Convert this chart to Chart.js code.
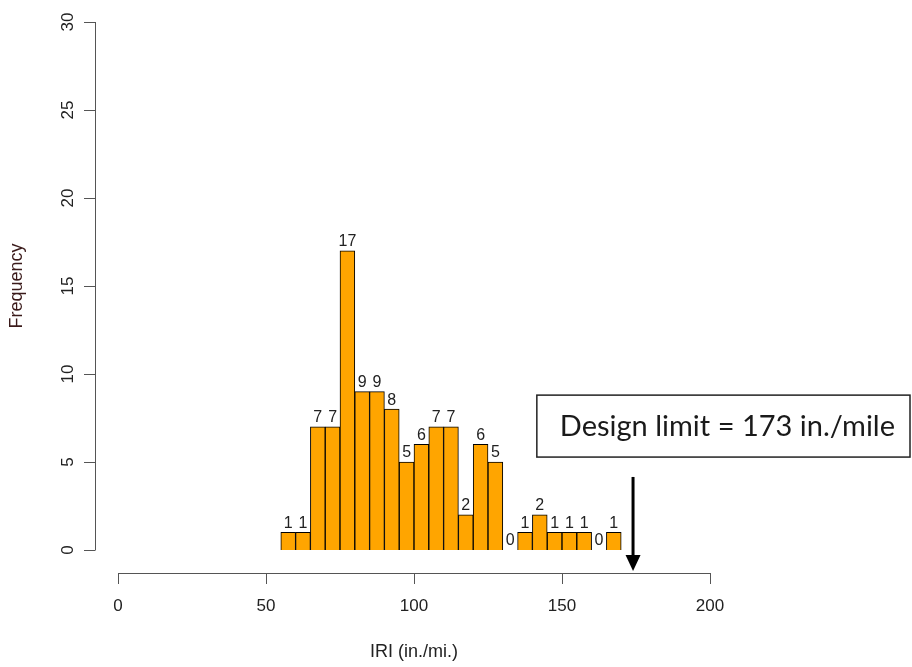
<!DOCTYPE html>
<html>
<head>
<meta charset="utf-8">
<script src="https://cdn.jsdelivr.net/npm/chart.js@4.4.1/dist/chart.umd.min.js"></script>
<style>
  html, body { margin: 0; padding: 0; background: #fff; }
  #wrap { width: 912px; height: 667px; }
</style>
</head>
<body>
<div id="wrap"><canvas id="chart"></canvas></div>
<script>
// histogram bins (lower edges, width 5) and counts
const binStarts = [55, 60, 65, 70, 75, 80, 85, 90, 95, 100, 105, 110, 115, 120, 125, 130, 135, 140, 145, 150, 155, 160, 165];
const counts    = [1, 1, 7, 7, 17, 9, 9, 8, 5, 6, 7, 7, 2, 6, 5, 0, 1, 2, 1, 1, 1, 0, 1];
const binWidth = 5;

const xTicks = [0, 50, 100, 150, 200];
const yTicks = [0, 5, 10, 15, 20, 25, 30];

const designLimit = 174;   // where the arrow sits
const noteText = 'Design limit = 173 in./mile';

const points = binStarts.map((s, i) => ({ x: s + binWidth / 2, y: counts[i] }));

const axisFont = '17px "Liberation Sans", Arial, sans-serif';
const titleFont = '18px "Liberation Sans", Arial, sans-serif';
const ink = '#222';

// R style detached axes, bar counts, arrow + note box
const rStyle = {
  id: 'rStyle',
  afterDatasetsDraw(chart) {
    const ctx = chart.ctx;
    const xs = chart.scales.x, ys = chart.scales.y;
    const area = chart.chartArea;
    ctx.save();

    // counts above bars
    const meta = chart.getDatasetMeta(0);
    ctx.font = '16px "Liberation Sans", Arial, sans-serif';
    ctx.fillStyle = ink;
    ctx.textAlign = 'center';
    ctx.textBaseline = 'bottom';
    meta.data.forEach((bar, i) => {
      ctx.fillText(String(counts[i]), bar.x, bar.y - 1);
    });

    // y axis
    const yAxisX = area.left - 23;
    ctx.strokeStyle = '#555';
    ctx.lineWidth = 1;
    ctx.beginPath();
    ctx.moveTo(yAxisX + 0.5, ys.getPixelForValue(0));
    ctx.lineTo(yAxisX + 0.5, ys.getPixelForValue(30));
    yTicks.forEach(t => {
      const py = Math.round(ys.getPixelForValue(t)) + 0.5;
      ctx.moveTo(yAxisX + 0.5, py);
      ctx.lineTo(yAxisX - 11, py);
    });
    ctx.stroke();
    ctx.font = axisFont;
    ctx.fillStyle = ink;
    yTicks.forEach(t => {
      ctx.save();
      ctx.translate(yAxisX - 27, ys.getPixelForValue(t));
      ctx.rotate(-Math.PI / 2);
      ctx.textAlign = 'center';
      ctx.textBaseline = 'middle';
      ctx.fillText(String(t), 0, 0);
      ctx.restore();
    });

    // x axis
    const xAxisY = ys.getPixelForValue(0) + 23;
    ctx.beginPath();
    ctx.moveTo(xs.getPixelForValue(0), xAxisY + 0.5);
    ctx.lineTo(xs.getPixelForValue(200), xAxisY + 0.5);
    xTicks.forEach(t => {
      const px = Math.round(xs.getPixelForValue(t)) + 0.5;
      ctx.moveTo(px, xAxisY);
      ctx.lineTo(px, xAxisY + 11);
    });
    ctx.stroke();
    ctx.textAlign = 'center';
    ctx.textBaseline = 'middle';
    xTicks.forEach(t => {
      ctx.fillText(String(t), xs.getPixelForValue(t), xAxisY + 33);
    });

    // axis titles
    ctx.font = titleFont;
    ctx.fillText('IRI (in./mi.)', (xs.getPixelForValue(0) + xs.getPixelForValue(200)) / 2, xAxisY + 79);
    ctx.save();
    ctx.translate(17, (ys.getPixelForValue(0) + ys.getPixelForValue(30)) / 2);
    ctx.rotate(-Math.PI / 2);
    ctx.fillStyle = '#3a1a1a';
    ctx.fillText('Frequency', 0, 0);
    ctx.restore();

    // arrow
    const ax = xs.getPixelForValue(designLimit);
    const aTop = ys.getPixelForValue(4.15);
    const aTip = xAxisY - 2;
    ctx.strokeStyle = '#000';
    ctx.lineWidth = 3;
    ctx.beginPath();
    ctx.moveTo(ax, aTop);
    ctx.lineTo(ax, aTip - 14);
    ctx.stroke();
    ctx.fillStyle = '#000';
    ctx.beginPath();
    ctx.moveTo(ax - 7.5, aTip - 16);
    ctx.lineTo(ax + 7.5, aTip - 16);
    ctx.lineTo(ax, aTip);
    ctx.closePath();
    ctx.fill();

    // note box
    const bx1 = xs.getPixelForValue(141.5);
    const bx2 = 910;
    const by1 = ys.getPixelForValue(8.8);
    const by2 = ys.getPixelForValue(5.28);
    ctx.fillStyle = '#fff';
    ctx.fillRect(bx1, by1, bx2 - bx1, by2 - by1);
    ctx.strokeStyle = '#222';
    ctx.lineWidth = 1.5;
    ctx.strokeRect(bx1, by1, bx2 - bx1, by2 - by1);
    ctx.fillStyle = '#1a1a1a';
    ctx.font = '29px Lato, "Open Sans", sans-serif';
    ctx.textAlign = 'center';
    ctx.textBaseline = 'middle';
    ctx.fillText(noteText, (bx1 + bx2) / 2 + 4, (by1 + by2) / 2 + 1);

    ctx.restore();
  }
};

new Chart(document.getElementById('chart'), {
  type: 'bar',
  data: {
    datasets: [{
      data: points,
      backgroundColor: '#FFA500',
      borderColor: '#000',
      borderWidth: 1,
      barPercentage: 1,
      categoryPercentage: 1
    }]
  },
  options: {
    responsive: true,
    maintainAspectRatio: false,
    animation: false,
    layout: { padding: { left: 118, right: 202, top: 22, bottom: 117 } },
    plugins: { legend: { display: false }, tooltip: { enabled: false } },
    scales: {
      x: { type: 'linear', min: 0, max: 200, offset: false, display: false },
      y: { min: 0, max: 30, display: false }
    }
  },
  plugins: [rStyle]
});
</script>
</body>
</html>
